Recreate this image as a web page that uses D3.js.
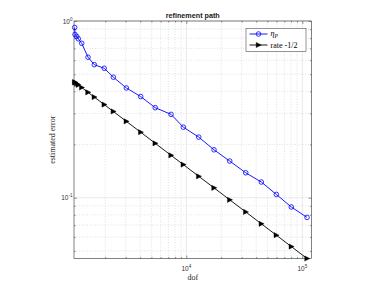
<!DOCTYPE html>
<html>
<head>
<meta charset="utf-8">
<script src="https://cdn.jsdelivr.net/npm/d3@7"></script>
<style>
  html, body { margin: 0; padding: 0; background: #ffffff; }
  svg { display: block; }
</style>
</head>
<body>
<script>
// ---- data ----
const dof = [1091, 1098, 1136, 1172, 1254, 1421, 1610, 1960, 2349, 3040, 4045,
             5394, 7383, 9421, 12790, 17330, 23670, 32520, 44320, 59700, 80390, 109800];
const etaP = [0.919, 0.839, 0.817, 0.793, 0.748, 0.624, 0.566, 0.540, 0.481, 0.418, 0.3736,
              0.3232, 0.2963, 0.2508, 0.2203, 0.1867, 0.1612, 0.1384, 0.1227, 0.1044, 0.0886, 0.0774];
const rate = [0.4505, 0.4493, 0.4417, 0.4349, 0.4204, 0.3949, 0.3711, 0.3366, 0.3077, 0.2705, 0.2348,
              0.2032, 0.1738, 0.1540, 0.1322, 0.1137, 0.0973, 0.0831, 0.0712, 0.0614, 0.0529, 0.0453];
const xDomain = [1076, 120000];
const yDomain = [0.0453, 1];
const xMajorTicks = [1e4, 1e5];
const xTickExp = ["4", "5"];
const yMajorTicks = [0.1, 1];
const yTickExp = ["-1", "0"];
const titleText = "refinement path";
const xLabel = "dof";
const yLabel = "estimated error";
const legendLabels = ["rate -1/2"];

// ---- layout ----
const W = 374, H = 291;
const L = 74, R = 311.5, T = 21, B = 258.5;

const svg = d3.select("body").append("svg").attr("width", W).attr("height", H);

const x = d3.scaleLog().domain(xDomain).range([L, R]);
const y = d3.scaleLog().domain(yDomain).range([B, T]);

const isMajor = v => Math.abs(Math.log10(v) - Math.round(Math.log10(v))) < 1e-9;
const xAll = x.ticks();
const yAll = y.ticks();

// ---- grid ----
const grid = svg.append("g");
grid.selectAll("line.xg").data(xAll).join("line")
  .attr("x1", d => x(d)).attr("x2", d => x(d)).attr("y1", T).attr("y2", B)
  .attr("stroke", d => isMajor(d) ? "#dcdcdc" : "#cfcfcf")
  .attr("stroke-width", 0.6)
  .attr("stroke-dasharray", d => isMajor(d) ? null : "1,1.6");
grid.selectAll("line.yg").data(yAll).join("line")
  .attr("y1", d => y(d)).attr("y2", d => y(d)).attr("x1", L).attr("x2", R)
  .attr("stroke", d => isMajor(d) ? "#dcdcdc" : "#cfcfcf")
  .attr("stroke-width", 0.6)
  .attr("stroke-dasharray", d => isMajor(d) ? null : "1,1.6");

// ---- ticks (inward, mirrored) using d3 axes ----
const axCol = "#4d4d4d";
function styleAxis(g) {
  g.select(".domain").remove();
  g.selectAll(".tick line").attr("stroke", axCol).attr("stroke-width", 0.6);
  g.selectAll(".tick text").remove();
}
svg.append("g").attr("transform", `translate(0,${B})`)
  .call(d3.axisBottom(x).tickValues(xAll).tickSize(0).tickSizeInner(0).tickFormat(""))
  .call(g => g.selectAll(".tick line").attr("y2", d => isMajor(d) ? -3 : -1.6))
  .call(styleAxis);
svg.append("g").attr("transform", `translate(0,${T})`)
  .call(d3.axisTop(x).tickValues(xAll).tickSize(0).tickFormat(""))
  .call(g => g.selectAll(".tick line").attr("y2", d => isMajor(d) ? 3 : 1.6))
  .call(styleAxis);
svg.append("g").attr("transform", `translate(${L},0)`)
  .call(d3.axisLeft(y).tickValues(yAll).tickSize(0).tickFormat(""))
  .call(g => g.selectAll(".tick line").attr("x2", d => isMajor(d) ? 3 : 1.6))
  .call(styleAxis);
svg.append("g").attr("transform", `translate(${R},0)`)
  .call(d3.axisRight(y).tickValues(yAll).tickSize(0).tickFormat(""))
  .call(g => g.selectAll(".tick line").attr("x2", d => isMajor(d) ? -3 : -1.6))
  .call(styleAxis);

// box
svg.append("rect").attr("x", L).attr("y", T).attr("width", R - L).attr("height", B - T)
  .attr("fill", "none").attr("stroke", axCol).attr("stroke-width", 0.7);

// ---- tick labels ----
const tickFont = "'Liberation Sans', Arial, Helvetica, sans-serif";
const xl = svg.append("g").attr("font-family", tickFont).attr("fill", "#333");
xMajorTicks.forEach((v, i) => {
  const t = xl.append("text").attr("x", x(v)).attr("y", 270.5).attr("text-anchor", "middle")
    .attr("font-size", 6.5);
  t.append("tspan").text("10");
  t.append("tspan").attr("dy", -3).attr("font-size", 4.6).text(xTickExp[i]);
});
const yl = svg.append("g").attr("font-family", tickFont).attr("fill", "#333");
yMajorTicks.forEach((v, i) => {
  const t = yl.append("text").attr("x", 72.5).attr("y", y(v) + 2.6).attr("text-anchor", "end")
    .attr("font-size", 6.5);
  t.append("tspan").text("10");
  t.append("tspan").attr("dy", -3).attr("font-size", 4.6).text(yTickExp[i]);
});

// ---- axis labels & title ----
const serif = "'Liberation Serif', 'Times New Roman', 'DejaVu Serif', serif";
svg.append("text").attr("x", (L + R) / 2).attr("y", 279.5).attr("text-anchor", "middle")
  .attr("font-family", serif).attr("font-size", 8).attr("fill", "#262626").text(xLabel);
svg.append("text").attr("transform", `translate(54.5,${(T + B) / 2}) rotate(-90)`)
  .attr("text-anchor", "middle").attr("font-family", serif).attr("font-size", 8)
  .attr("fill", "#262626").text(yLabel);
svg.append("text").attr("x", (L + R) / 2).attr("y", 17.5).attr("text-anchor", "middle")
  .attr("font-family", tickFont).attr("font-weight", "bold").attr("font-size", 7.2)
  .attr("fill", "#1a1a1a").text(titleText);

// ---- series ----
const blue = "#0000ff";
const line = d3.line().x(d => x(d[0])).y(d => y(d[1]));
const bluePts = dof.map((d, i) => [d, etaP[i]]);
const blackPts = dof.map((d, i) => [d, rate[i]]);

svg.append("path").datum(bluePts).attr("d", line).attr("fill", "none")
  .attr("stroke", blue).attr("stroke-width", 0.9);
svg.append("g").selectAll("circle").data(bluePts).join("circle")
  .attr("cx", d => x(d[0])).attr("cy", d => y(d[1])).attr("r", 2.3)
  .attr("fill", "none").attr("stroke", blue).attr("stroke-width", 0.8);

const tri = "M-2.3,-2.6L2.8,0L-2.3,2.6Z";
svg.append("path").datum(blackPts).attr("d", line).attr("fill", "none")
  .attr("stroke", "#000").attr("stroke-width", 0.9);
svg.append("g").selectAll("path").data(blackPts).join("path")
  .attr("transform", d => `translate(${x(d[0])},${y(d[1])})`)
  .attr("d", tri).attr("fill", "#000").attr("stroke", "#000").attr("stroke-width", 0.4);

// ---- legend ----
const lg = svg.append("g");
lg.append("rect").attr("x", 246).attr("y", 28.5).attr("width", 60).attr("height", 23)
  .attr("fill", "#fff").attr("stroke", axCol).attr("stroke-width", 0.6);
const rows = [34, 45];
// row 1: eta_P
lg.append("line").attr("x1", 249.5).attr("x2", 267.5).attr("y1", rows[0]).attr("y2", rows[0])
  .attr("stroke", blue).attr("stroke-width", 0.9);
lg.append("circle").attr("cx", 258.5).attr("cy", rows[0]).attr("r", 2.3)
  .attr("fill", "none").attr("stroke", blue).attr("stroke-width", 0.8);
const t1 = lg.append("text").attr("x", 270.5).attr("y", rows[0] + 2.2)
  .attr("font-family", serif).attr("font-size", 8).attr("fill", "#000");
t1.append("tspan").attr("font-style", "italic").text("η");
t1.append("tspan").attr("font-style", "italic").attr("font-size", 5.5).attr("dy", 1.6).text("P");
// row 2: rate
lg.append("line").attr("x1", 249.5).attr("x2", 267.5).attr("y1", rows[1]).attr("y2", rows[1])
  .attr("stroke", "#000").attr("stroke-width", 0.9);
lg.append("path").attr("transform", `translate(258.5,${rows[1]})`).attr("d", tri)
  .attr("fill", "#000").attr("stroke", "#000").attr("stroke-width", 0.4);
lg.append("text").attr("x", 270.5).attr("y", rows[1] + 2.6)
  .attr("font-family", serif).attr("font-size", 8).attr("fill", "#000").text(legendLabels[0]);
</script>
</body>
</html>
